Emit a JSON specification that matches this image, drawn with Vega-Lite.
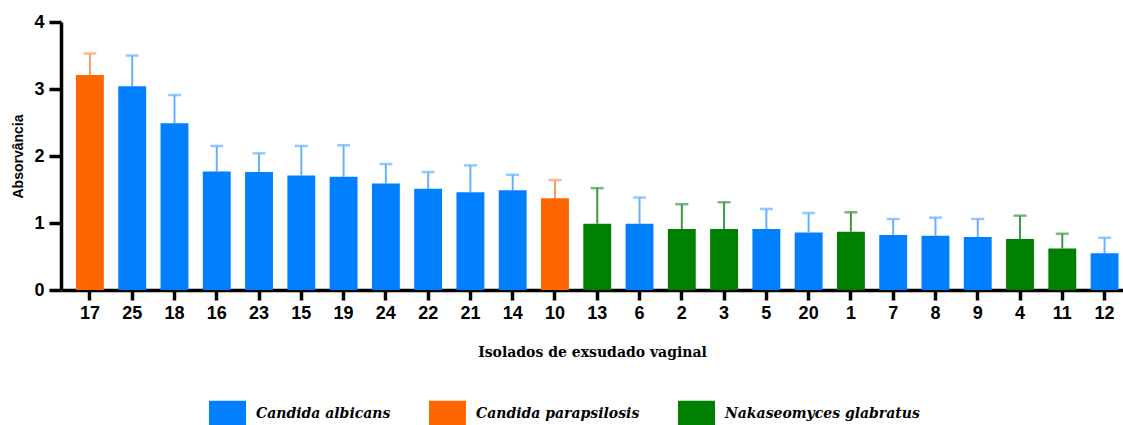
{
  "$schema": "https://vega.github.io/schema/vega-lite/v6.json",
  "autosize": {"type": "none"},
  "width": 1062,
  "height": 268,
  "padding": {"left": 61, "top": 22, "right": 0, "bottom": 135},
  "background": "white",
  "data": {
    "values": [
      {"iso": "17", "sp": "Candida parapsilosis", "abs": 3.21, "up": 3.53},
      {"iso": "25", "sp": "Candida albicans", "abs": 3.04, "up": 3.50},
      {"iso": "18", "sp": "Candida albicans", "abs": 2.49, "up": 2.91},
      {"iso": "16", "sp": "Candida albicans", "abs": 1.77, "up": 2.15},
      {"iso": "23", "sp": "Candida albicans", "abs": 1.76, "up": 2.04},
      {"iso": "15", "sp": "Candida albicans", "abs": 1.71, "up": 2.15},
      {"iso": "19", "sp": "Candida albicans", "abs": 1.69, "up": 2.16},
      {"iso": "24", "sp": "Candida albicans", "abs": 1.59, "up": 1.88},
      {"iso": "22", "sp": "Candida albicans", "abs": 1.51, "up": 1.76},
      {"iso": "21", "sp": "Candida albicans", "abs": 1.46, "up": 1.86},
      {"iso": "14", "sp": "Candida albicans", "abs": 1.49, "up": 1.72},
      {"iso": "10", "sp": "Candida parapsilosis", "abs": 1.37, "up": 1.64},
      {"iso": "13", "sp": "Nakaseomyces glabratus", "abs": 0.99, "up": 1.52},
      {"iso": "6", "sp": "Candida albicans", "abs": 0.99, "up": 1.38},
      {"iso": "2", "sp": "Nakaseomyces glabratus", "abs": 0.91, "up": 1.28},
      {"iso": "3", "sp": "Nakaseomyces glabratus", "abs": 0.91, "up": 1.31},
      {"iso": "5", "sp": "Candida albicans", "abs": 0.91, "up": 1.21},
      {"iso": "20", "sp": "Candida albicans", "abs": 0.86, "up": 1.15},
      {"iso": "1", "sp": "Nakaseomyces glabratus", "abs": 0.87, "up": 1.16},
      {"iso": "7", "sp": "Candida albicans", "abs": 0.82, "up": 1.06},
      {"iso": "8", "sp": "Candida albicans", "abs": 0.81, "up": 1.08},
      {"iso": "9", "sp": "Candida albicans", "abs": 0.79, "up": 1.06},
      {"iso": "4", "sp": "Nakaseomyces glabratus", "abs": 0.76, "up": 1.11},
      {"iso": "11", "sp": "Nakaseomyces glabratus", "abs": 0.62, "up": 0.84},
      {"iso": "12", "sp": "Candida albicans", "abs": 0.55, "up": 0.78}
    ]
  },
  "encoding": {
    "x": {
      "field": "iso",
      "type": "nominal",
      "sort": null,
      "scale": {"paddingInner": 0.34, "paddingOuter": 0.23, "align": 0.77},
      "axis": {
        "title": "Isolados de exsudado vaginal",
        "titleFont": "DejaVu Serif",
        "titleFontSize": 14,
        "titleFontWeight": "bold",
        "titleColor": "black",
        "titlePadding": 23,
        "labelAngle": 0,
        "labelFont": "Liberation Sans",
        "labelFontSize": 18,
        "labelFontWeight": "bold",
        "labelColor": "black",
        "labelPadding": 4,
        "domainColor": "black",
        "domainWidth": 3.5,
        "tickColor": "black",
        "tickWidth": 3.5,
        "tickSize": 10
      }
    }
  },
  "layer": [
    {
      "layer": [
        {
          "mark": {"type": "rule", "strokeWidth": 2},
          "encoding": {
            "y": {"field": "abs", "type": "quantitative"},
            "y2": {"field": "up"}
          }
        },
        {
          "mark": {"type": "tick", "thickness": 2.5, "size": 13},
          "encoding": {
            "y": {"field": "up", "type": "quantitative"}
          }
        }
      ],
      "encoding": {
        "color": {
          "field": "sp",
          "type": "nominal",
          "scale": {
            "domain": ["Candida albicans", "Candida parapsilosis", "Nakaseomyces glabratus"],
            "range": ["#66b2ff", "#ff9a66", "#3f9a3f"]
          },
          "legend": null
        }
      }
    },
    {
      "mark": {"type": "bar", "opacity": 1},
      "encoding": {
        "y": {
          "field": "abs",
          "type": "quantitative",
          "scale": {"domain": [0, 4], "nice": false},
          "axis": {
            "title": "Absorvância",
            "titleFont": "Liberation Sans",
            "titleFontSize": 14,
            "titleFontWeight": "bold",
            "titleColor": "black",
            "titlePadding": 8,
            "values": [0, 1, 2, 3, 4],
            "format": "d",
            "grid": false,
            "labelFont": "Liberation Sans",
            "labelFontSize": 18,
            "labelFontWeight": "bold",
            "labelColor": "black",
            "labelPadding": 5,
            "domainColor": "black",
            "domainWidth": 3.5,
            "tickColor": "black",
            "tickWidth": 3.5,
            "tickSize": 12
          }
        },
        "color": {
          "field": "sp",
          "type": "nominal",
          "scale": {
            "domain": ["Candida albicans", "Candida parapsilosis", "Nakaseomyces glabratus"],
            "range": ["#0080ff", "#ff6600", "#008000"]
          },
          "legend": {
            "title": null,
            "orient": "none",
            "legendX": 148,
            "legendY": 373,
            "direction": "horizontal",
            "columns": 3,
            "columnPadding": 38,
            "symbolType": "M-1,-0.7H1V0.7H-1Z",
            "symbolSize": 1369,
            "symbolStrokeWidth": 0,
            "symbolOpacity": 1,
            "labelOffset": 10,
            "labelFont": "DejaVu Serif",
            "labelFontSize": 14,
            "labelFontWeight": "bold",
            "labelFontStyle": "italic",
            "labelColor": "black",
            "labelLimit": 400,
            "padding": 0
          }
        }
      }
    }
  ],
  "resolve": {"scale": {"color": "independent"}},
  "config": {
    "view": {"stroke": null},
    "axis": {"labelOverlap": false}
  }
}
